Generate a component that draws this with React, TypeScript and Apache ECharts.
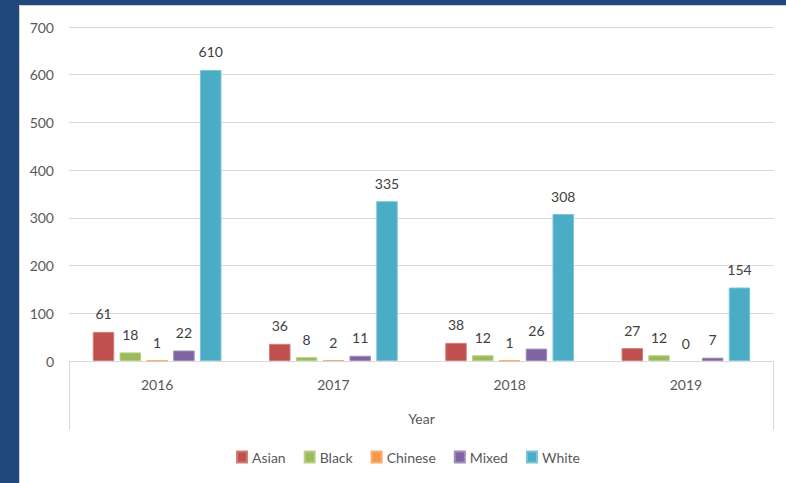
import React, { useEffect, useRef } from "react";
import * as echarts from "echarts";

const years = ["2016", "2017", "2018", "2019"];
const asian = [61, 36, 38, 27];
const black = [18, 8, 12, 12];
const chinese = [1, 2, 1, 0];
const mixed = [22, 11, 26, 7];
const white = [610, 335, 308, 154];
const yTicks = { min: 0, max: 700, interval: 100 };

const seriesDefs = [
  { name: "Asian", data: asian, color: "#C0504D", edge: "#d27c79" },
  { name: "Black", data: black, color: "#9BBB59", edge: "#b6cf84" },
  { name: "Chinese", data: chinese, color: "#F79646", edge: "#f9ad73" },
  { name: "Mixed", data: mixed, color: "#8064A2", edge: "#a08bbb" },
  { name: "White", data: white, color: "#4BACC6", edge: "#7cc3d6" },
];

const FONT = "Lato, 'Open Sans', sans-serif";

export default function App() {
  const ref = useRef<HTMLDivElement>(null);
  useEffect(() => {
    if (!ref.current) return;
    const chart = echarts.init(ref.current, null, { renderer: "svg" });
    chart.setOption({
      animation: false,
      textStyle: { fontFamily: FONT },
      grid: { left: 69, right: 12, top: 27, bottom: 122, containLabel: false },
      legend: {
        left: 236,
        top: 450,
        padding: 0,
        itemWidth: 10,
        itemHeight: 11,
        itemGap: 18,
        icon: "rect",
        textStyle: { fontSize: 14, color: "#595959", fontFamily: FONT },
        data: seriesDefs.map((s) => s.name),
      },
      xAxis: {
        type: "category",
        data: years,
        name: "Year",
        nameLocation: "middle",
        nameGap: 50,
        nameTextStyle: { fontSize: 14, color: "#595959", fontFamily: FONT },
        axisLine: { lineStyle: { color: "#d9d9d9", width: 1 } },
        axisTick: { show: false },
        axisLabel: { fontSize: 14, color: "#595959", margin: 16, fontFamily: FONT },
      },
      yAxis: {
        type: "value",
        min: yTicks.min,
        max: yTicks.max,
        interval: yTicks.interval,
        axisLine: { show: false },
        axisTick: { show: false },
        axisLabel: { fontSize: 14, color: "#595959", margin: 15, fontFamily: FONT },
        splitLine: { lineStyle: { color: "#d9d9d9", width: 1 } },
      },
      graphic: [
        {
          type: "line",
          shape: { x1: 69.5, y1: 361, x2: 69.5, y2: 430 },
          style: { stroke: "#d9d9d9", lineWidth: 1 },
        },
        {
          type: "line",
          shape: { x1: 773.5, y1: 361, x2: 773.5, y2: 430 },
          style: { stroke: "#d9d9d9", lineWidth: 1 },
        },
      ],
      series: seriesDefs.map((s) => ({
        name: s.name,
        type: "bar",
        data: s.data.map((v) =>
          v === 0 ? { value: v, itemStyle: { borderWidth: 0 } } : v
        ),
        barGap: "25%",
        barCategoryGap: "27%",
        itemStyle: { color: s.color, borderColor: s.edge, borderWidth: 1 },
        label: {
          show: true,
          position: "top",
          distance: 11,
          fontSize: 14,
          color: "#404040",
          fontFamily: FONT,
        },
      })),
    });
    return () => chart.dispose();
  }, []);

  return (
    <div
      style={{
        position: "fixed",
        left: 0,
        top: 0,
        width: 786,
        height: 483,
        background: "#1F497D",
        overflow: "hidden",
      }}
    >
      <div
        style={{
          position: "absolute",
          left: 19,
          top: 5,
          right: 0,
          bottom: 0,
          background: "#ffffff",
          borderLeft: "1px solid #d0d0d0",
          borderTop: "1px solid #d0d0d0",
        }}
      />
      <div
        ref={ref}
        style={{ position: "absolute", left: 0, top: 0, width: 786, height: 483 }}
      />
    </div>
  );
}
